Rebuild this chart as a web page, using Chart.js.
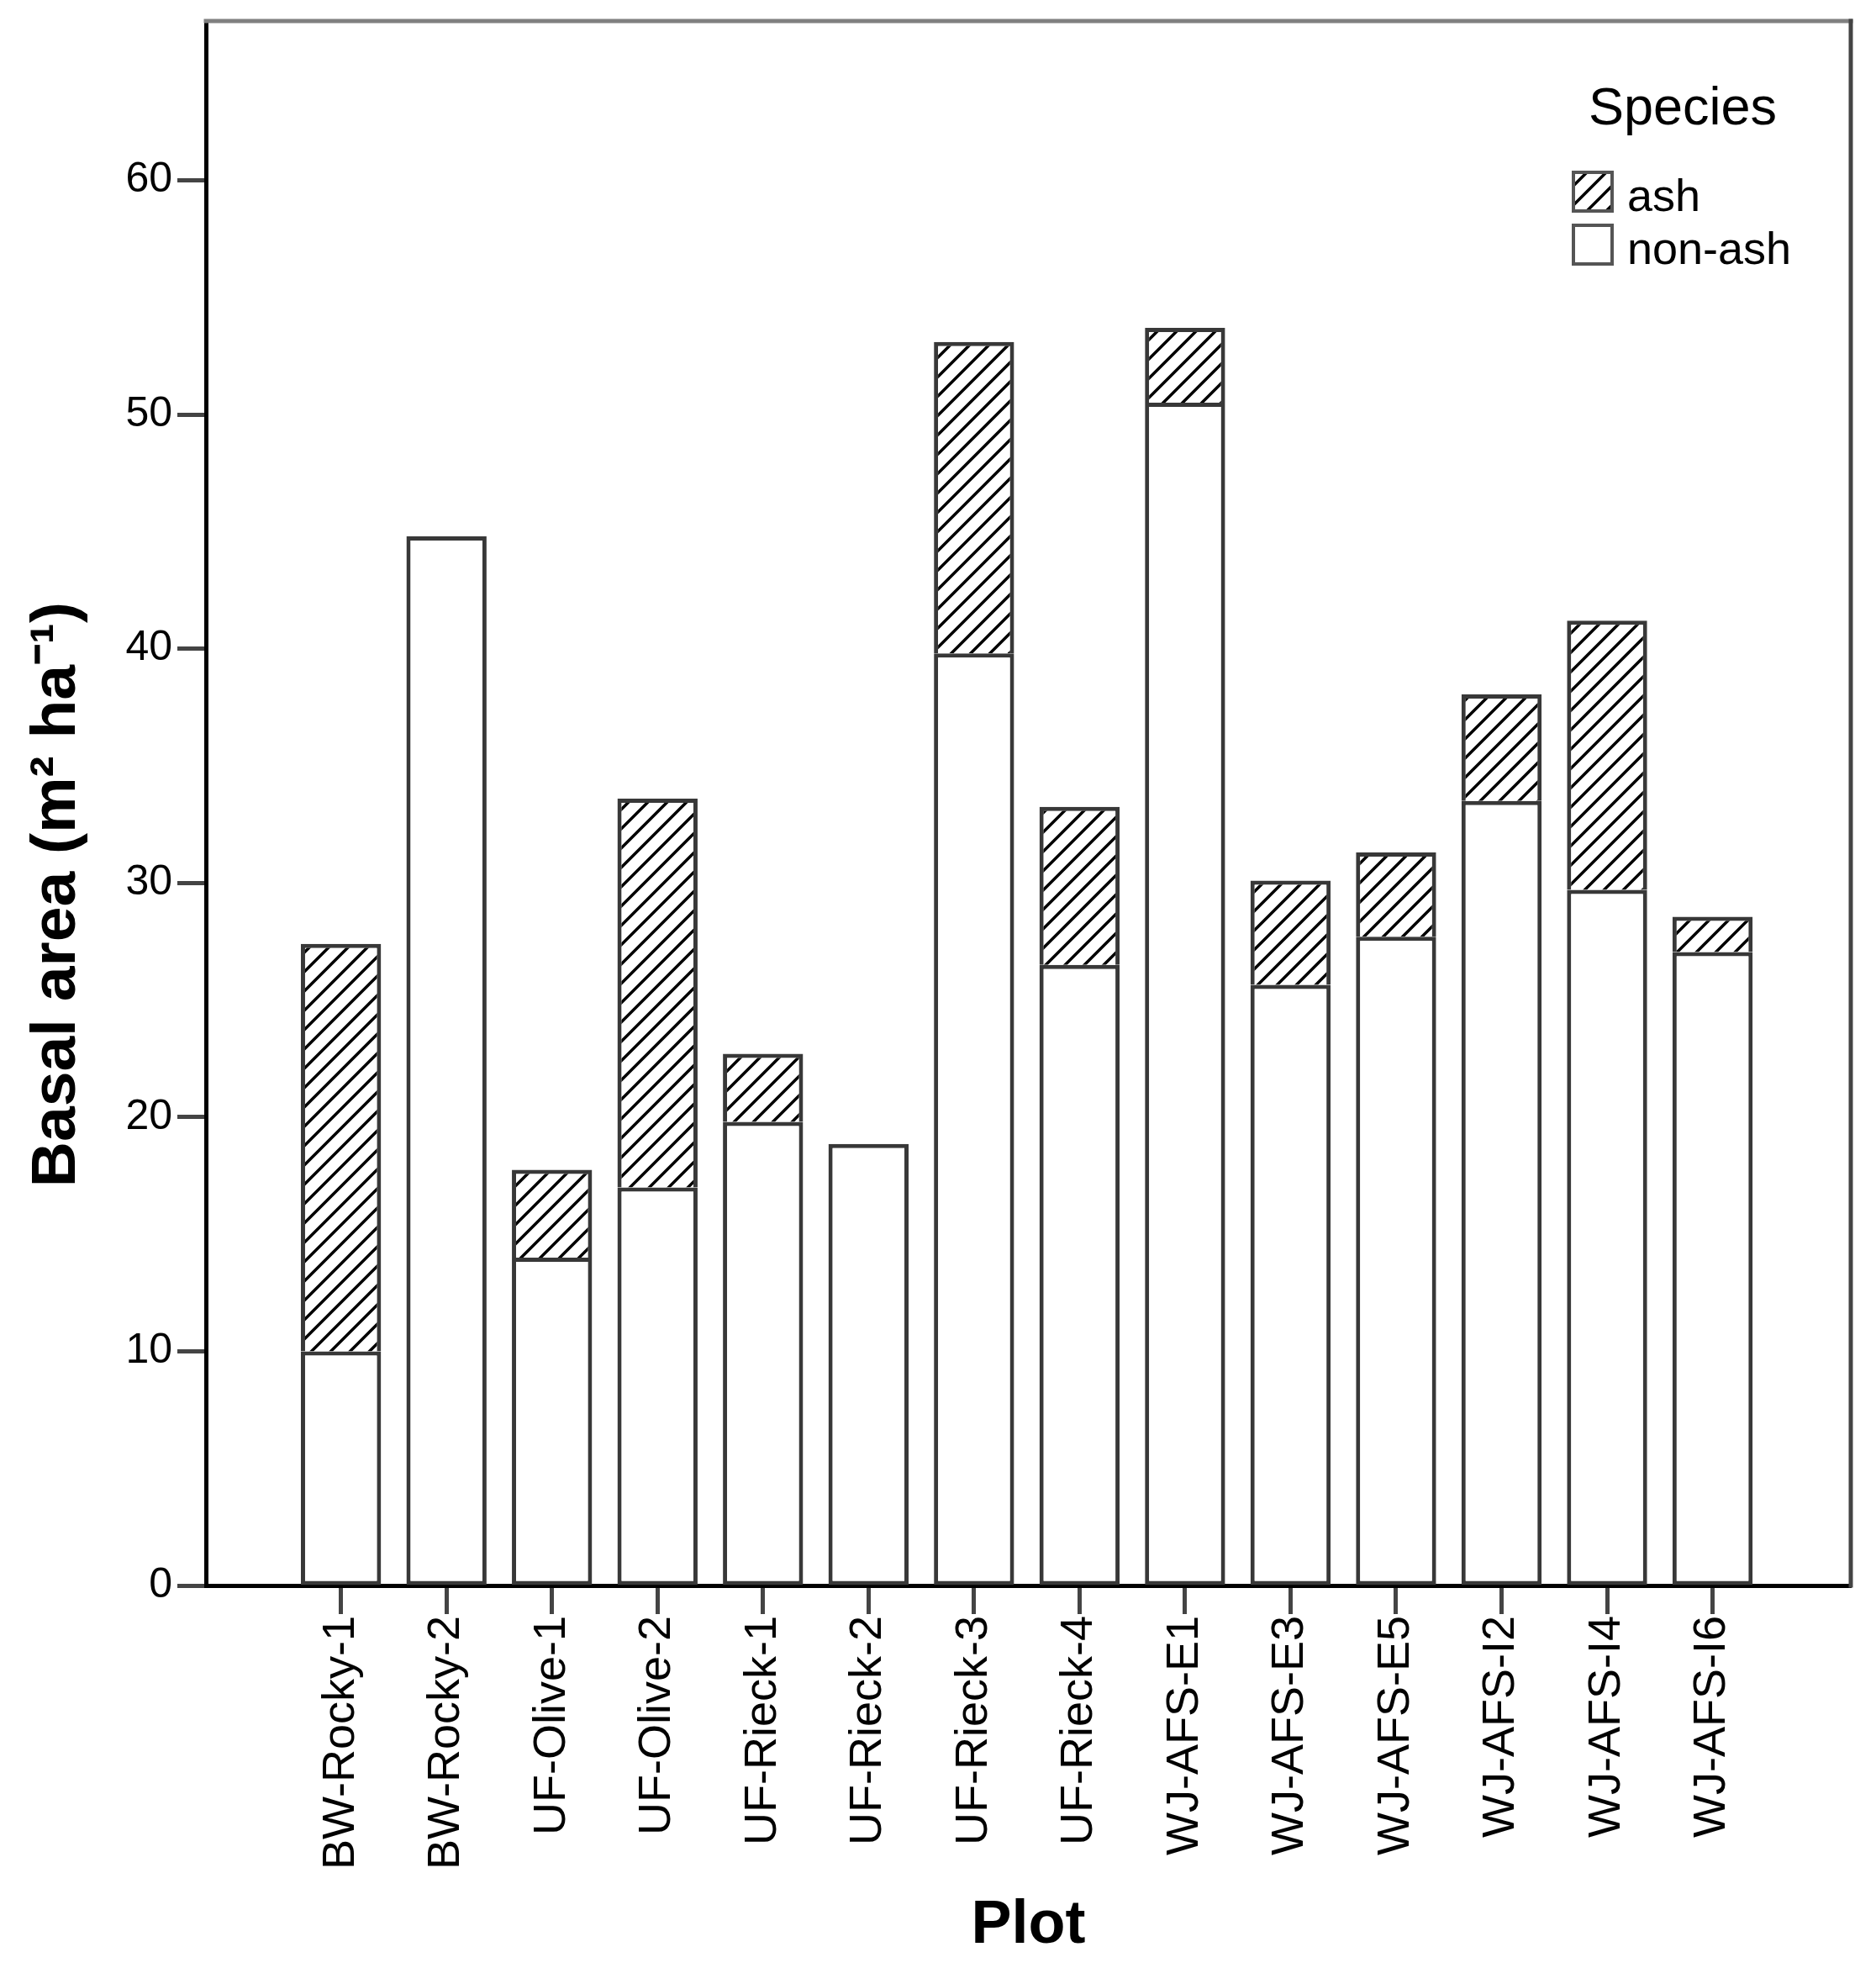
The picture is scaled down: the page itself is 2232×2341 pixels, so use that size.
<!DOCTYPE html>
<html>
<head>
<meta charset="utf-8">
<script src="https://cdn.jsdelivr.net/npm/chart.js@4"></script>
<style>
  html, body { margin: 0; padding: 0; background: #fff; }
</style>
</head>
<body>
<canvas id="basalChart" width="2232" height="2341"></canvas>
<script>
// plot names along the x axis
const plotNames = [
  'BW-Rocky-1', 'BW-Rocky-2', 'UF-Olive-1', 'UF-Olive-2', 'UF-Rieck-1',
  'UF-Rieck-2', 'UF-Rieck-3', 'UF-Rieck-4', 'WJ-AFS-E1', 'WJ-AFS-E3',
  'WJ-AFS-E5', 'WJ-AFS-I2', 'WJ-AFS-I4', 'WJ-AFS-I6'
];

// basal area, m2 per ha
const nonAshArea = [10.0, 44.8, 14.0, 17.0, 19.8, 18.85, 39.8, 26.5, 50.5, 25.65, 27.7, 33.5, 29.7, 27.05];
const ashArea    = [17.4, 0, 3.75, 16.6, 2.9, 0, 13.3, 6.75, 3.2, 4.45, 3.6, 4.55, 11.5, 1.5];

const yTicks = [0, 10, 20, 30, 40, 50, 60];
const yMax = 66.8;

const FONT = "'Liberation Sans', Arial, sans-serif";

function makeHatch() {
  const s = 23;
  const c = document.createElement('canvas');
  c.width = s;
  c.height = s;
  const g = c.getContext('2d');
  g.fillStyle = '#fff';
  g.fillRect(0, 0, s, s);
  g.strokeStyle = '#000';
  g.lineWidth = 3.5;
  g.beginPath();
  g.moveTo(0, s); g.lineTo(s, 0);
  g.moveTo(-s / 2, s / 2); g.lineTo(s / 2, -s / 2);
  g.moveTo(s / 2, s * 1.5); g.lineTo(s * 1.5, s / 2);
  g.stroke();
  return g.createPattern(c, 'repeat');
}
const hatch = makeHatch();

// -----------------------
// frame, y title and legend drawn on top
// -----------------------
const framePlugin = {
  id: 'frame',
  afterDraw(chart) {
    const { ctx, chartArea: a } = chart;
    ctx.save();
    ctx.lineCap = 'square';
    ctx.strokeStyle = '#808080';
    ctx.lineWidth = 5;
    ctx.beginPath();
    ctx.moveTo(a.left, a.top);
    ctx.lineTo(a.right, a.top);
    ctx.stroke();
    ctx.strokeStyle = '#444';
    ctx.beginPath();
    ctx.moveTo(a.right, a.top);
    ctx.lineTo(a.right, a.bottom);
    ctx.stroke();
    ctx.restore();
  }
};

const yTitlePlugin = {
  id: 'yTitle',
  afterDraw(chart) {
    const { ctx } = chart;
    const y = chart.scales.y;
    ctx.save();
    ctx.translate(68, y.getPixelForValue(29.5));
    ctx.rotate(-Math.PI / 2);
    ctx.font = `bold 75px ${FONT}`;
    ctx.fillStyle = '#000';
    ctx.textAlign = 'center';
    ctx.textBaseline = 'middle';
    ctx.fillText('Basal area (m² ha⁻¹)', 0, 0);
    ctx.restore();
  }
};

const legendPlugin = {
  id: 'speciesLegend',
  afterDraw(chart) {
    const { ctx, chartArea: a } = chart;
    ctx.save();
    ctx.fillStyle = '#000';
    ctx.font = `63px ${FONT}`;
    ctx.textAlign = 'center';
    ctx.textBaseline = 'alphabetic';
    ctx.fillText('Species', a.right - 200, a.top + 123);

    const items = chart.data.datasets.slice().reverse();
    items.forEach((ds, i) => {
      const bx = a.right - 330;
      const by = a.top + 180 + i * 63;
      ctx.fillStyle = ds.backgroundColor;
      ctx.fillRect(bx, by, 46, 46);
      ctx.strokeStyle = '#555';
      ctx.lineWidth = 4;
      ctx.strokeRect(bx, by, 46, 46);
      ctx.fillStyle = '#000';
      ctx.font = `54px ${FONT}`;
      ctx.textAlign = 'left';
      ctx.fillText(ds.label, bx + 64, by + 46);
    });
    ctx.restore();
  }
};

// -----------------------
// Chart
// -----------------------
const ctx = document.getElementById('basalChart').getContext('2d');
const basalChart = new Chart(ctx, {
  type: 'bar',
  data: {
    datasets: [
      {
        label: 'non-ash',
        data: nonAshArea.map((v, i) => ({ x: i, y: v })),
        backgroundColor: '#ffffff',
        borderColor: '#383838',
        borderWidth: 5,
        borderSkipped: false
      },
      {
        label: 'ash',
        data: ashArea.map((v, i) => ({ x: i, y: v })),
        backgroundColor: hatch,
        borderColor: '#383838',
        borderWidth: 5,
        borderSkipped: 'start'
      }
    ]
  },
  options: {
    responsive: false,
    animation: false,
    devicePixelRatio: 1,
    barPercentage: 0.76,
    categoryPercentage: 1,
    layout: { padding: { top: 25, right: 30, left: 0, bottom: 0 } },
    plugins: {
      legend: { display: false },
      tooltip: { enabled: false }
    },
    scales: {
      x: {
        type: 'linear',
        stacked: true,
        offset: false,
        min: -1.28,
        max: 14.31,
        afterBuildTicks: (scale) => {
          scale.ticks = plotNames.map((_, i) => ({ value: i }));
        },
        afterFit: (scale) => { scale.height = 455; },
        ticks: {
          autoSkip: false,
          minRotation: 90,
          maxRotation: 90,
          padding: 2,
          color: '#000',
          font: { family: FONT, size: 54 },
          callback: (value) => plotNames[value]
        },
        grid: {
          offset: false,
          drawOnChartArea: false,
          tickLength: 34,
          tickColor: '#444',
          tickWidth: 5
        },
        border: { color: '#000', width: 5 },
        title: {
          display: true,
          text: 'Plot',
          color: '#000',
          font: { family: FONT, size: 72, weight: 'bold' },
          padding: { top: 0, bottom: 7 }
        }
      },
      y: {
        stacked: true,
        min: 0,
        max: yMax,
        afterBuildTicks: (scale) => {
          scale.ticks = yTicks.map((v) => ({ value: v }));
        },
        afterFit: (scale) => {
          scale.width = 245;
          scale.paddingTop = 0;
          scale.paddingBottom = 0;
        },
        ticks: {
          padding: 6,
          color: '#000',
          font: { family: FONT, size: 50 }
        },
        grid: {
          drawOnChartArea: false,
          tickLength: 34,
          tickColor: '#444',
          tickWidth: 5
        },
        border: { color: '#000', width: 5 }
      }
    }
  },
  plugins: [framePlugin, yTitlePlugin, legendPlugin]
});
</script>
</body>
</html>
